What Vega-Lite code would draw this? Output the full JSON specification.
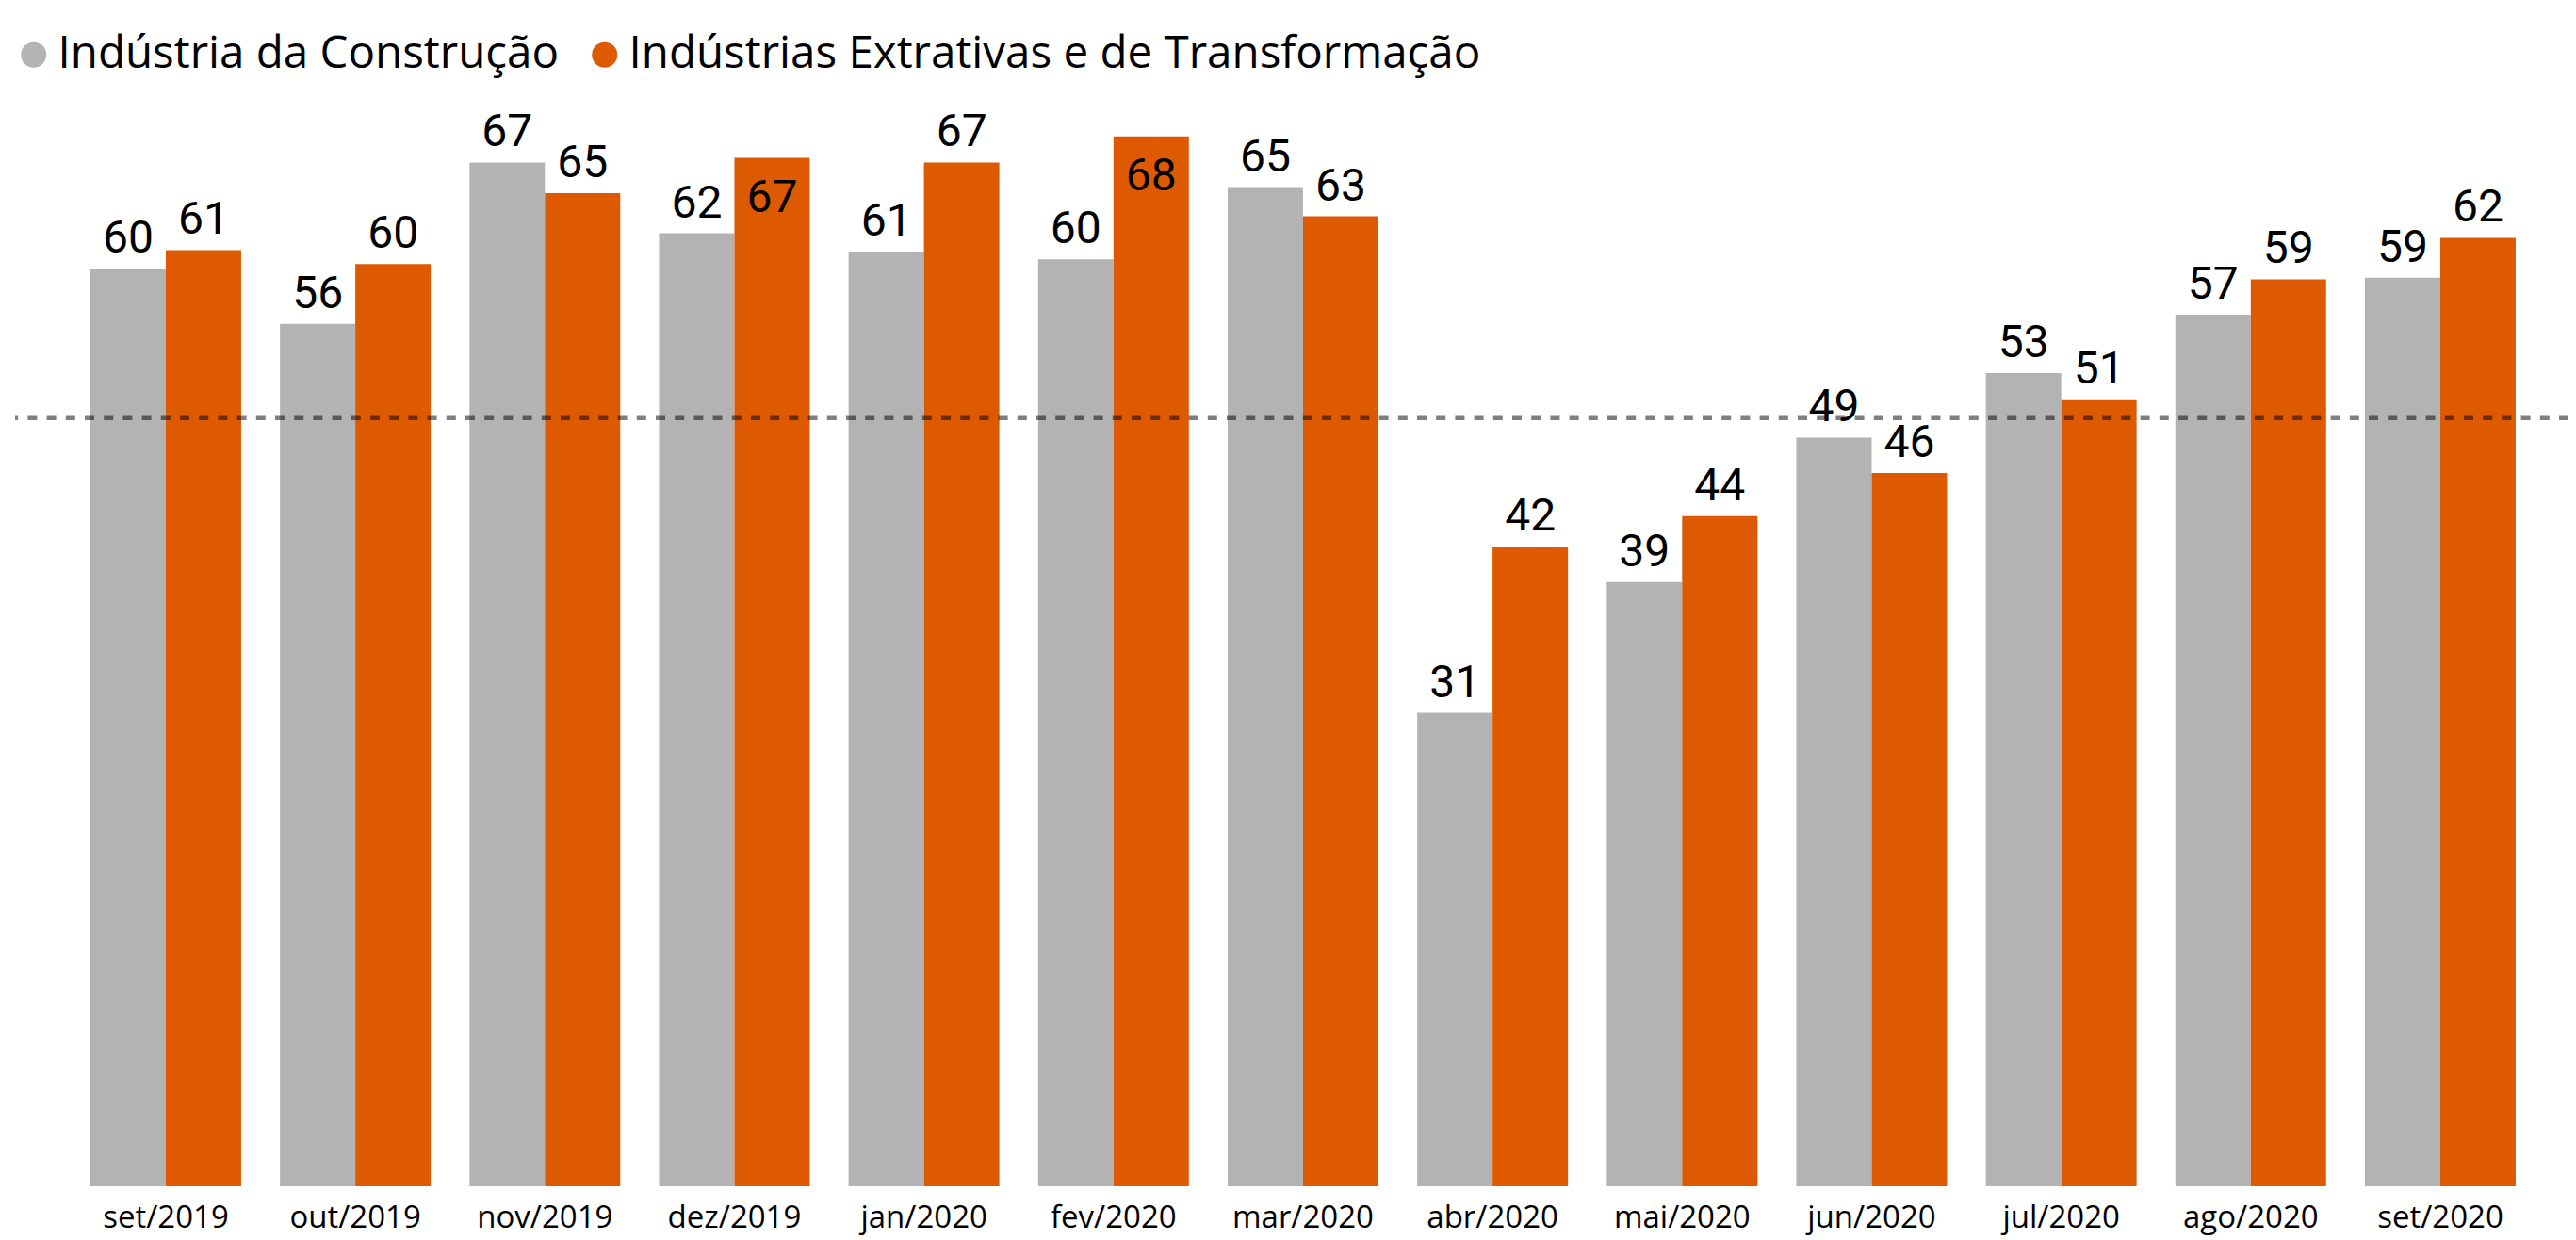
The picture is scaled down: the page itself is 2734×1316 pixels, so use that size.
{
  "$schema": "https://vega.github.io/schema/vega-lite/v6.json",
  "autosize": {"type": "none"},
  "padding": {"left": 16, "top": 117, "right": 8, "bottom": 57},
  "width": 2710,
  "height": 1142,
  "background": "white",
  "config": {"view": {"stroke": null}},
  "data": {
    "values": [
      {"mes": "set/2019", "serie": "Indústria da Construção", "v": 59.7},
      {"mes": "set/2019", "serie": "Indústrias Extrativas e de Transformação", "v": 60.9},
      {"mes": "out/2019", "serie": "Indústria da Construção", "v": 56.1},
      {"mes": "out/2019", "serie": "Indústrias Extrativas e de Transformação", "v": 60.0},
      {"mes": "nov/2019", "serie": "Indústria da Construção", "v": 66.6},
      {"mes": "nov/2019", "serie": "Indústrias Extrativas e de Transformação", "v": 64.6},
      {"mes": "dez/2019", "serie": "Indústria da Construção", "v": 62.0},
      {"mes": "dez/2019", "serie": "Indústrias Extrativas e de Transformação", "v": 66.9},
      {"mes": "jan/2020", "serie": "Indústria da Construção", "v": 60.8},
      {"mes": "jan/2020", "serie": "Indústrias Extrativas e de Transformação", "v": 66.6},
      {"mes": "fev/2020", "serie": "Indústria da Construção", "v": 60.3},
      {"mes": "fev/2020", "serie": "Indústrias Extrativas e de Transformação", "v": 68.3},
      {"mes": "mar/2020", "serie": "Indústria da Construção", "v": 65.0},
      {"mes": "mar/2020", "serie": "Indústrias Extrativas e de Transformação", "v": 63.1},
      {"mes": "abr/2020", "serie": "Indústria da Construção", "v": 30.8},
      {"mes": "abr/2020", "serie": "Indústrias Extrativas e de Transformação", "v": 41.6},
      {"mes": "mai/2020", "serie": "Indústria da Construção", "v": 39.3},
      {"mes": "mai/2020", "serie": "Indústrias Extrativas e de Transformação", "v": 43.6},
      {"mes": "jun/2020", "serie": "Indústria da Construção", "v": 48.7},
      {"mes": "jun/2020", "serie": "Indústrias Extrativas e de Transformação", "v": 46.4},
      {"mes": "jul/2020", "serie": "Indústria da Construção", "v": 52.9},
      {"mes": "jul/2020", "serie": "Indústrias Extrativas e de Transformação", "v": 51.2},
      {"mes": "ago/2020", "serie": "Indústria da Construção", "v": 56.7},
      {"mes": "ago/2020", "serie": "Indústrias Extrativas e de Transformação", "v": 59.0},
      {"mes": "set/2020", "serie": "Indústria da Construção", "v": 59.1},
      {"mes": "set/2020", "serie": "Indústrias Extrativas e de Transformação", "v": 61.7}
    ]
  },
  "layer": [
    {
      "mark": {"type": "bar"},
      "encoding": {
        "x": {
          "field": "mes", "type": "nominal", "sort": null,
          "scale": {"paddingInner": 0.2047, "paddingOuter": 0.338, "align": 0.588},
          "axis": {"title": null, "domain": false, "ticks": false, "labelAngle": 0, "labelFont": "Open Sans", "labelFontSize": 33, "labelPadding": 17, "labelColor": "black"}
        },
        "xOffset": {"field": "serie", "type": "nominal", "sort": ["Indústria da Construção", "Indústrias Extrativas e de Transformação"]},
        "y": {"field": "v", "type": "quantitative", "scale": {"domain": [0, 70], "nice": false}, "axis": null},
        "color": {
          "field": "serie", "type": "nominal",
          "scale": {"domain": ["Indústria da Construção", "Indústrias Extrativas e de Transformação"], "range": ["#b3b3b3", "#dd5a02"]},
          "legend": {
            "title": null, "orient": "none", "legendX": -4, "legendY": -83, "direction": "horizontal",
            "symbolType": "circle", "symbolSize": 729, "symbolStrokeWidth": 0, "symbolOpacity": 1,
            "labelFont": "Open Sans", "labelFontSize": 47.5, "labelColor": "black", "labelOffset": 2,
            "columnPadding": 24, "padding": 0, "labelLimit": 2000
          }
        }
      }
    },
    {
      "data": {"values": [{"referencia": 50}]},
      "mark": {"type": "rule", "stroke": "#000000", "opacity": 0.5, "strokeWidth": 5.5, "strokeDash": [10, 10.2]},
      "encoding": {"y": {"field": "referencia", "type": "quantitative"}}
    },
    {
      "transform": [{"filter": "!(datum.serie == 'Indústrias Extrativas e de Transformação' && datum.v > 66.7)"}],
      "mark": {"type": "text", "font": "Roboto", "fontSize": 48, "baseline": "alphabetic", "align": "center", "dy": -17, "color": "black"},
      "encoding": {
        "x": {"field": "mes", "type": "nominal", "sort": null},
        "xOffset": {"field": "serie", "type": "nominal", "sort": ["Indústria da Construção", "Indústrias Extrativas e de Transformação"]},
        "y": {"field": "v", "type": "quantitative"},
        "text": {"field": "v", "type": "quantitative", "format": ".0f"}
      }
    },
    {
      "transform": [{"filter": "datum.serie == 'Indústrias Extrativas e de Transformação' && datum.v > 66.7"}],
      "mark": {"type": "text", "font": "Roboto", "fontSize": 48, "baseline": "alphabetic", "align": "center", "dy": 57, "color": "black"},
      "encoding": {
        "x": {"field": "mes", "type": "nominal", "sort": null},
        "xOffset": {"field": "serie", "type": "nominal", "sort": ["Indústria da Construção", "Indústrias Extrativas e de Transformação"]},
        "y": {"field": "v", "type": "quantitative"},
        "text": {"field": "v", "type": "quantitative", "format": ".0f"}
      }
    }
  ]
}
